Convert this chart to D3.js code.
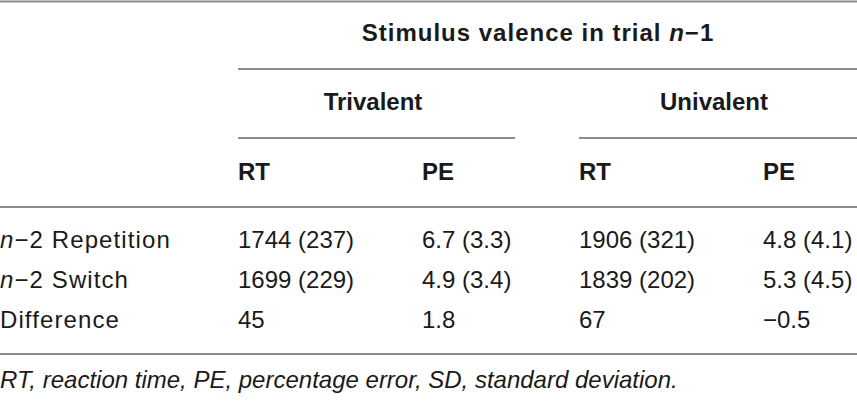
<!DOCTYPE html>
<html>
<head>
<meta charset="utf-8">
<script src="https://cdn.jsdelivr.net/npm/d3@7"></script>
<style>
  html, body { margin: 0; padding: 0; background: #fff; }
  svg { display: block; font-family: "Liberation Sans", Arial, sans-serif; }
</style>
</head>
<body>
<script>
// table content
const spanHeader = ["Stimulus valence in trial ", "n", "\u22121"];
const groups = ["Trivalent", "Univalent"];
const measures = ["RT", "PE"];
const rowLabels = [
  ["n", "\u22122 Repetition"],
  ["n", "\u22122 Switch"],
  ["", "Difference"]
];
const trivalentRT = ["1744 (237)", "1699 (229)", "45"];
const trivalentPE = ["6.7 (3.3)", "4.9 (3.4)", "1.8"];
const univalentRT = ["1906 (321)", "1839 (202)", "67"];
const univalentPE = ["4.8 (4.1)", "5.3 (4.5)", "\u22120.5"];
const footnote = "RT, reaction time, PE, percentage error, SD, standard deviation.";

const cells = {
  Trivalent: { RT: trivalentRT, PE: trivalentPE },
  Univalent: { RT: univalentRT, PE: univalentPE }
};

const width = 857, height = 402;
const ruleColor = "#8c8c8c";
const textColor = "#1a1a1a";
const fontSize = 24;

const svg = d3.select("body").append("svg")
  .attr("width", width)
  .attr("height", height);

const groupX = d3.scalePoint().domain(groups).range([238, 579]);
const measureX = d3.scalePoint().domain(measures).range([0, 184]);
const rowY = d3.scalePoint().domain(d3.range(rowLabels.length)).range([248, 328]);
const groupLineWidth = 277;

const rule = (x1, x2, y) => svg.append("line")
  .attr("x1", x1).attr("x2", x2)
  .attr("y1", y).attr("y2", y)
  .attr("stroke", ruleColor)
  .attr("stroke-width", 2);

// horizontal rules
rule(0, width, 1.5);
rule(groupX(groups[0]), width, 69);
groups.forEach((g, i) => {
  const x2 = i === groups.length - 1 ? width : groupX(g) + groupLineWidth;
  rule(groupX(g), x2, 138);
});
rule(0, width, 207);
rule(0, width, 354);

// spanning header
const span = svg.append("text")
  .attr("x", 538).attr("y", 41)
  .attr("text-anchor", "middle")
  .attr("font-size", fontSize)
  .attr("font-weight", "bold")
  .attr("letter-spacing", 1)
  .attr("fill", textColor);
span.selectAll("tspan").data(spanHeader).join("tspan")
  .attr("font-style", (d, i) => i === 1 ? "italic" : null)
  .text(d => d);

// group headers
svg.selectAll("text.group").data(groups).join("text")
  .attr("class", "group")
  .attr("x", d => groupX(d) + 135)
  .attr("y", 110)
  .attr("text-anchor", "middle")
  .attr("font-size", fontSize)
  .attr("font-weight", "bold")
  .attr("fill", textColor)
  .text(d => d);

// measure headers
const colPairs = groups.flatMap(g => measures.map(m => ({ g, m })));
svg.selectAll("text.measure").data(colPairs).join("text")
  .attr("class", "measure")
  .attr("x", d => groupX(d.g) + measureX(d.m))
  .attr("y", 180)
  .attr("font-size", fontSize)
  .attr("font-weight", "bold")
  .attr("fill", textColor)
  .text(d => d.m);

// row labels
const labels = svg.selectAll("text.row").data(rowLabels).join("text")
  .attr("class", "row")
  .attr("x", 0)
  .attr("y", (d, i) => rowY(i))
  .attr("font-size", fontSize)
  .attr("letter-spacing", 1.1)
  .attr("fill", textColor);
labels.selectAll("tspan").data(d => d).join("tspan")
  .attr("font-style", (d, i) => i === 0 ? "italic" : null)
  .text(d => d);

// body cells
colPairs.forEach(({ g, m }) => {
  svg.selectAll(null).data(cells[g][m]).join("text")
    .attr("x", groupX(g) + measureX(m))
    .attr("y", (d, i) => rowY(i))
    .attr("font-size", fontSize)
    .attr("fill", textColor)
    .text(d => d);
});

// footnote
svg.append("text")
  .attr("x", 0).attr("y", 388)
  .attr("font-size", 24)
  .attr("font-style", "italic")
  .attr("fill", textColor)
  .text(footnote);
</script>
</body>
</html>
